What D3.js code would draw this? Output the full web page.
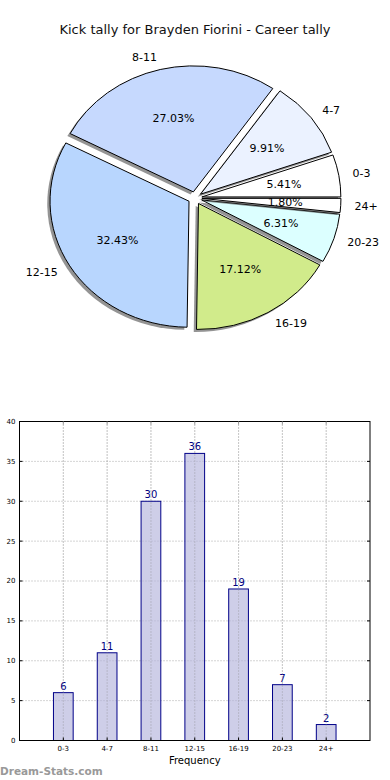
<!DOCTYPE html>
<html><head><meta charset="utf-8">
<script src="https://cdn.jsdelivr.net/npm/d3@7"></script>
<style>body{margin:0;background:#fff}svg{display:block;font-family:"DejaVu Sans",sans-serif}</style>
</head><body>
<script>
const categories = ["0-3","4-7","8-11","12-15","16-19","20-23","24+"];
const values = [6, 11, 30, 36, 19, 7, 2];
const pieColors = ["#ffffff","#ebf2ff","#c6d9fe","#b8d6fe","#d1eb8b","#dcffff","#ffffff"];
const yTicks = [0,5,10,15,20,25,30,35,40];
const title = "Kick tally for Brayden Fiorini - Career tally";

const W = 390, H = 780;
const svg = d3.select("body").append("svg").attr("width", W).attr("height", H);

svg.append("text").attr("x", 195).attr("y", 34).attr("text-anchor","middle")
  .attr("font-size", 13).attr("fill","#111").text(title);

// ---- Pie ----
const cx = 195, cy = 198, rx = 139, ry = 126;
const total = d3.sum(values);
const pie = d3.pie().sort(null).startAngle(Math.PI/2).endAngle(Math.PI/2 - 2*Math.PI);
const arcs = pie(values);
const arc = d3.arc().innerRadius(0).outerRadius(rx);
const g = svg.append("g");
arcs.forEach((a, i) => {
  const m = (a.startAngle + a.endAngle) / 2;
  const dx = 0.05*rx*Math.sin(m), dy = -0.05*ry*Math.cos(m);
  const px = cx + dx, py = cy + dy;
  g.append("path").attr("d", arc(a))
    .attr("transform", `translate(${px - 0.02*rx},${py + 0.02*ry}) scale(1,${ry/rx})`)
    .attr("fill", "rgba(60,60,60,0.55)").attr("stroke","none");
  g.append("path").attr("d", arc(a))
    .attr("transform", `translate(${px},${py}) scale(1,${ry/rx})`)
    .attr("fill", pieColors[i]).attr("stroke","#000").attr("stroke-width",1)
    .attr("vector-effect","non-scaling-stroke").attr("stroke-linejoin","round");
});
arcs.forEach((a, i) => {
  const m = (a.startAngle + a.endAngle) / 2;
  const s = Math.sin(m), c = Math.cos(m);
  const px = cx + 0.05*rx*s, py = cy - 0.05*ry*c;
  svg.append("text").attr("x", px + 1.1*rx*s).attr("y", py - 1.1*ry*c)
    .attr("dy","0.35em").attr("text-anchor", s > 0 ? "start" : "end")
    .attr("font-size", 11).attr("fill","#000").text(categories[i]);
  svg.append("text").attr("x", px + 0.6*rx*s).attr("y", py - 0.6*ry*c)
    .attr("dy","0.35em").attr("text-anchor","middle")
    .attr("font-size", 11).attr("fill","#000")
    .text((values[i]/total*100).toFixed(2) + "%");
});

// ---- Bar chart ----
const L = 19.5, R = 370, T = 421.5, B = 740.5;
const x = d3.scaleLinear().domain([-1, 7]).range([L, R]);
const y = d3.scaleLinear().domain([0, 40]).range([B, T]);
const bg = svg.append("g");
const grid = bg.append("g").attr("stroke","#aaa").attr("stroke-width",1).attr("stroke-dasharray","1,2");
yTicks.slice(1, -1).forEach(t => grid.append("line").attr("x1", L).attr("x2", R).attr("y1", y(t)).attr("y2", y(t)));
categories.forEach((c, i) => grid.append("line").attr("x1", x(i)).attr("x2", x(i)).attr("y1", T).attr("y2", B));

const bw = x(0.45) - x(0);
values.forEach((v, i) => {
  bg.append("rect").attr("x", x(i) - bw/2).attr("y", y(v)).attr("width", bw).attr("height", y(0) - y(v))
    .attr("fill","rgba(180,180,220,0.65)").attr("stroke","#000088").attr("stroke-width",1);
  bg.append("text").attr("x", x(i)).attr("y", y(v) - 3).attr("text-anchor","middle")
    .attr("font-size", 10).attr("fill","#000080").text(v);
});
categories.forEach((c, i) => bg.append("line").attr("x1", x(i)).attr("x2", x(i)).attr("y1", T).attr("y2", B)
  .attr("stroke","#aaa").attr("stroke-dasharray","1,2").attr("opacity",0.6));

bg.append("rect").attr("x", L).attr("y", T).attr("width", R - L).attr("height", B - T)
  .attr("fill","none").attr("stroke","#000").attr("stroke-width",1);

yTicks.forEach(t => {
  bg.append("line").attr("x1", L).attr("x2", L + 3).attr("y1", y(t)).attr("y2", y(t)).attr("stroke","#000");
  bg.append("line").attr("x1", R).attr("x2", R - 3).attr("y1", y(t)).attr("y2", y(t)).attr("stroke","#000");
  bg.append("text").attr("x", L - 4).attr("y", y(t)).attr("dy","0.35em").attr("text-anchor","end")
    .attr("font-size", 7).attr("fill","#000").text(t);
});
categories.forEach((c, i) => {
  bg.append("line").attr("x1", x(i)).attr("x2", x(i)).attr("y1", B).attr("y2", B - 3).attr("stroke","#000");
  bg.append("line").attr("x1", x(i)).attr("x2", x(i)).attr("y1", T).attr("y2", T + 3).attr("stroke","#999");
  bg.append("text").attr("x", x(i)).attr("y", B + 10).attr("text-anchor","middle")
    .attr("font-size", 7).attr("fill","#000").text(c);
});
svg.append("text").attr("x", (L + R)/2).attr("y", 764).attr("text-anchor","middle")
  .attr("font-size", 10).attr("fill","#000").text("Frequency");
svg.append("text").attr("x", 0).attr("y", 775).attr("font-size", 10.5).attr("font-weight","bold")
  .attr("fill","#999").text("Dream-Stats.com");
</script>
</body></html>
